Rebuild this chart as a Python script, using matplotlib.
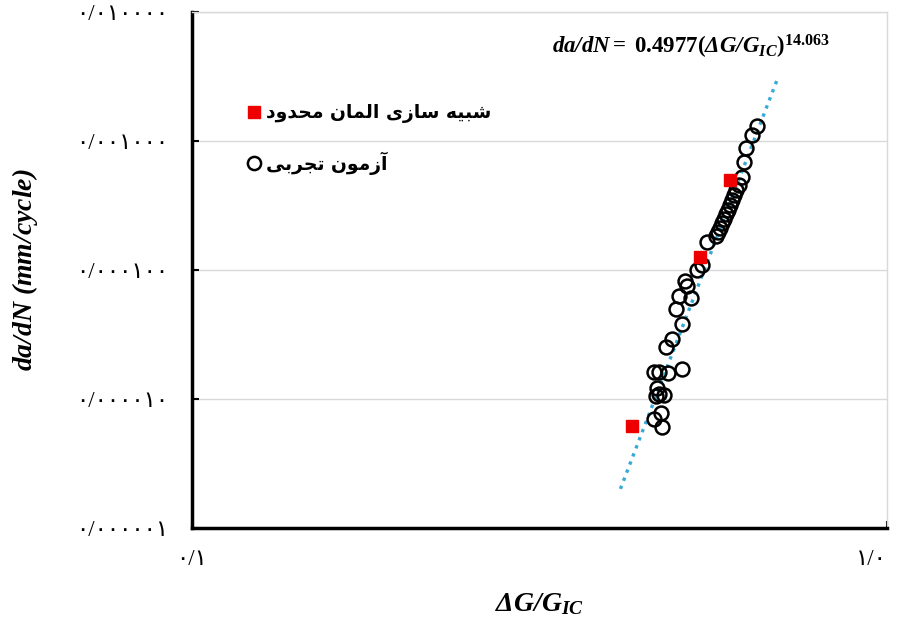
import matplotlib
matplotlib.use("Agg")
import matplotlib.pyplot as plt
from matplotlib.lines import Line2D
import numpy as np

# ---- data -------------------------------------------------------------
# experimental crack-growth rate vs. normalised energy release rate
exp_g = [0.6505, 0.6397, 0.6271, 0.6229, 0.6189, 0.6128,
         0.6067, 0.6028, 0.5988, 0.5948, 0.5910, 0.5871, 0.5832, 0.5793,
         0.5755, 0.5717, 0.5679, 0.5513, 0.5422, 0.5333, 0.5126, 0.5159,
         0.5025, 0.5228, 0.4975, 0.5076, 0.4911, 0.4814, 0.4626, 0.4703,
         0.4845, 0.5076, 0.4672, 0.4703, 0.4782, 0.4657, 0.4734, 0.4626,
         0.4750]
exp_rate = [1.307e-3, 1.113e-3, 8.82e-4, 6.87e-4, 5.26e-4, 4.56e-4,
            4.17e-4, 3.81e-4, 3.49e-4, 3.19e-4, 2.92e-4, 2.72e-4, 2.48e-4,
            2.31e-4, 2.12e-4, 1.97e-4, 1.83e-4, 1.65e-4, 1.093e-4, 1.0e-4,
            8.22e-5, 7.52e-5, 6.29e-5, 6.07e-5, 4.98e-5, 3.81e-5, 2.92e-5,
            2.53e-5, 1.62e-5, 1.62e-5, 1.59e-5, 1.71e-5, 1.217e-5, 1.093e-5,
            1.074e-5, 1.055e-5, 7.79e-6, 7.00e-6, 6.07e-6]

# finite element predictions
fem_g = [0.4301, 0.5386, 0.5948]
fem_rate = [6.18e-6, 1.261e-4, 4.99e-4]

# power-law fit  da/dN = C (dG/Gic)^m
fit_c = 0.4977
fit_m = 14.063
fit_range = [0.4135, 0.695]

y_ticks = [1e-6, 1e-5, 1e-4, 1e-3, 1e-2]
y_tick_labels = ["۰/۰۰۰۰۰۱", "۰/۰۰۰۰۱۰", "۰/۰۰۰۱۰۰", "۰/۰۰۱۰۰۰", "۰/۰۱۰۰۰۰"]
x_ticks = [0.1, 1.0]
x_tick_labels = ["۰/۱", "۱/۰"]

label_fem = "شبیه سازی المان محدود"
label_exp = "آزمون تجربی"

# ---- minimal Persian shaping (presentation forms + visual order) -------
FORMS = {
    "\u0622": ("\uFE81", "\uFE82", None, None),
    "\u0627": ("\uFE8D", "\uFE8E", None, None),
    "\u0628": ("\uFE8F", "\uFE90", "\uFE91", "\uFE92"),
    "\u062A": ("\uFE95", "\uFE96", "\uFE97", "\uFE98"),
    "\u062C": ("\uFE9D", "\uFE9E", "\uFE9F", "\uFEA0"),
    "\u062D": ("\uFEA1", "\uFEA2", "\uFEA3", "\uFEA4"),
    "\u062F": ("\uFEA9", "\uFEAA", None, None),
    "\u0631": ("\uFEAD", "\uFEAE", None, None),
    "\u0632": ("\uFEAF", "\uFEB0", None, None),
    "\u0633": ("\uFEB1", "\uFEB2", "\uFEB3", "\uFEB4"),
    "\u0634": ("\uFEB5", "\uFEB6", "\uFEB7", "\uFEB8"),
    "\u0644": ("\uFEDD", "\uFEDE", "\uFEDF", "\uFEE0"),
    "\u0645": ("\uFEE1", "\uFEE2", "\uFEE3", "\uFEE4"),
    "\u0646": ("\uFEE5", "\uFEE6", "\uFEE7", "\uFEE8"),
    "\u0647": ("\uFEE9", "\uFEEA", "\uFEEB", "\uFEEC"),
    "\u0648": ("\uFEED", "\uFEEE", None, None),
    "\u06CC": ("\uFBFC", "\uFBFD", "\uFBFE", "\uFBFF"),
}


def shape(text):
    out = []
    for i, c in enumerate(text):
        if c not in FORMS:
            out.append(c)
            continue
        iso, fin, ini, med = FORMS[c]
        prev = text[i - 1] if i > 0 else None
        nxt = text[i + 1] if i + 1 < len(text) else None
        jp = prev in FORMS and FORMS[prev][2] is not None
        jn = ini is not None and nxt in FORMS
        if jp and jn:
            out.append(med)
        elif jp:
            out.append(fin)
        elif jn:
            out.append(ini)
        else:
            out.append(iso)
    return "".join(reversed(out))


# ---- figure ------------------------------------------------------------
plt.rcParams["mathtext.fontset"] = "custom"
plt.rcParams["mathtext.rm"] = "Liberation Serif"
plt.rcParams["mathtext.it"] = "Liberation Serif:italic"
plt.rcParams["mathtext.bf"] = "Liberation Serif:bold"
plt.rcParams["mathtext.bfit"] = "Liberation Serif:italic:bold"

fig = plt.figure(figsize=(9, 6.18), dpi=100)
ax = fig.add_axes([0.2133, 0.1456, 0.7722, 0.835])

ax.set_xscale("log")
ax.set_yscale("log")
ax.set_xlim(0.1, 1.0)
ax.set_ylim(1e-6, 1e-2)

ax.grid(True, which="major", axis="y", color="#d9d9d9", lw=1.0)
ax.set_axisbelow(True)

ax.minorticks_off()
ax.set_yticks(y_ticks)
ax.set_yticklabels(y_tick_labels)
ax.set_xticks(x_ticks)
ax.set_xticklabels(x_tick_labels)
ax.tick_params(axis="both", direction="in", length=5, width=1.5)
ax.tick_params(axis="y", pad=17)
ax.tick_params(axis="x", pad=15)
for lab in ax.get_yticklabels() + ax.get_xticklabels():
    lab.set_fontfamily(["Liberation Serif", "DejaVu Sans"])
    lab.set_fontsize(16.5)
# keep the last x label inside the canvas
ax.get_xticklabels()[-1].set_horizontalalignment("right")

for side in ("left", "bottom"):
    ax.spines[side].set_color("black")
    ax.spines[side].set_linewidth(2.5)
for side in ("top", "right"):
    ax.spines[side].set_color("#d9d9d9")
    ax.spines[side].set_linewidth(1.0)

# fitted trend line
xf = np.geomspace(fit_range[0], fit_range[1], 200)
ax.plot(xf, fit_c * xf ** fit_m, linestyle=(0, (1, 1.6)), color="#35aad6",
        lw=2.4, zorder=2)

# experimental points
ax.plot(exp_g, exp_rate, linestyle="none", marker="o", ms=10,
        mfc="none", mec="black", mew=1.8, zorder=3)

# finite element points
ax.plot(fem_g, fem_rate, linestyle="none", marker="s", ms=9,
        mfc="#ee0000", mec="#ee0000", zorder=4)

# fit equation
ax.text(0.518, 0.919,
        r"$\mathbfit{da/dN}\mathbf{=\ 0.4977(}\mathbfit{\Delta G/G_{IC}}"
        r"\mathbf{)}^{\mathbf{14.063}}$",
        transform=ax.transAxes, fontsize=16.5, ha="left", va="baseline")

# legend
handles = [
    Line2D([], [], linestyle="none", marker="s", ms=9,
           mfc="#ee0000", mec="#ee0000"),
    Line2D([], [], linestyle="none", marker="o", ms=9.5,
           mfc="none", mec="black", mew=1.8),
]
leg = ax.legend(handles, [shape(label_fem), shape(label_exp)],
                loc="upper left", bbox_to_anchor=(0.054, 0.856),
                frameon=False, handlelength=0.8, handletextpad=0.25,
                labelspacing=1.5,
                prop={"family": ["DejaVu Sans"], "size": 13.5,
                      "weight": "bold"})

ax.set_xlabel(r"$\mathbfit{\Delta G/G_{IC}}$", fontsize=20, labelpad=14)
ax.set_ylabel(r"$\mathbfit{da/dN\ (mm/cycle)}$", fontsize=20)
ax.yaxis.set_label_coords(-0.218, 0.5)

fig.savefig("out.png", dpi=100)
